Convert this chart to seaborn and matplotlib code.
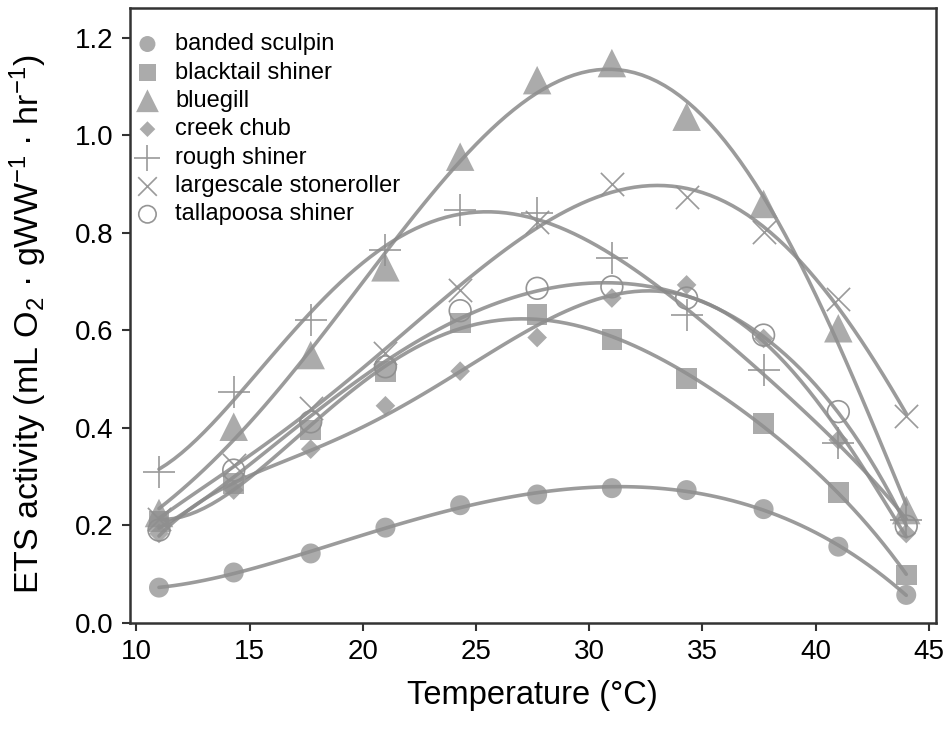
import numpy as np
import pandas as pd
import matplotlib
matplotlib.use("Agg")
import matplotlib.pyplot as plt
import seaborn as sns

temperature = [11, 14.3, 17.7, 21, 24.3, 27.7, 31, 34.3, 37.7, 41, 44]

species = ["banded sculpin", "blacktail shiner", "bluegill", "creek chub",
           "rough shiner", "largescale stoneroller", "tallapoosa shiner"]

banded_sculpin = [0.072, 0.103, 0.142, 0.195, 0.241, 0.263, 0.276, 0.272, 0.233, 0.156, 0.057]
blacktail_shiner = [0.208, 0.286, 0.395, 0.515, 0.615, 0.632, 0.581, 0.501, 0.409, 0.267, 0.098]
bluegill = [0.225, 0.402, 0.549, 0.729, 0.956, 1.113, 1.148, 1.038, 0.859, 0.604, 0.231]
creek_chub = [0.183, 0.272, 0.356, 0.445, 0.516, 0.585, 0.666, 0.693, 0.583, 0.375, 0.183]
rough_shiner = [0.310, 0.474, 0.621, 0.765, 0.847, 0.841, 0.748, 0.631, 0.518, 0.368, 0.211]
largescale_stoneroller = [0.212, 0.324, 0.440, 0.553, 0.683, 0.822, 0.899, 0.874, 0.801, 0.664, 0.423]
tallapoosa_shiner = [0.190, 0.313, 0.412, 0.525, 0.640, 0.686, 0.689, 0.666, 0.590, 0.433, 0.198]

values = [banded_sculpin, blacktail_shiner, bluegill, creek_chub,
          rough_shiner, largescale_stoneroller, tallapoosa_shiner]

markers = ["o", "s", "^", "D", "+", "x", "o"]
filled = [True, True, True, True, False, False, False]
msizes = [207, 222, 420, 100, 530, 280, 245]

x_ticks = [10, 15, 20, 25, 30, 35, 40, 45]
y_ticks = [0.0, 0.2, 0.4, 0.6, 0.8, 1.0, 1.2]

sns.set_theme(style="ticks")
plt.rcParams['font.family'] = ['Liberation Sans', 'DejaVu Sans']
plt.rcParams['mathtext.fontset'] = 'custom'
plt.rcParams['mathtext.rm'] = 'Liberation Sans'
plt.rcParams['mathtext.it'] = 'Liberation Sans'
plt.rcParams['text.color'] = 'black'
plt.rcParams['axes.labelcolor'] = 'black'
plt.rcParams['xtick.labelcolor'] = 'black'
plt.rcParams['ytick.labelcolor'] = 'black'

fig = plt.figure(figsize=(9.51, 7.42), dpi=100)
ax = fig.add_axes([0.1367, 0.1608, 0.8472, 0.8284])

gray = "#8f8f8f"
line_gray = "#8a8a8a"

for name, vals, m, f, s in zip(species, values, markers, filled, msizes):
    df = pd.DataFrame({"Temperature": temperature, "ETS": vals})
    sns.regplot(data=df, x="Temperature", y="ETS", order=5, ci=None,
                scatter=False, truncate=True, ax=ax,
                line_kws=dict(color=line_gray, lw=2.6, alpha=0.85))
    if m in ("+", "x"):
        sns.scatterplot(data=df, x="Temperature", y="ETS", marker=m, s=s,
                        color=gray, linewidth=1.2, alpha=0.9, ax=ax,
                        label=name, zorder=3)
    elif not f:
        sns.scatterplot(data=df, x="Temperature", y="ETS", marker=m, s=s,
                        facecolor="none", edgecolor=gray, linewidth=1.2,
                        alpha=0.95, ax=ax, label=name, zorder=3)
    else:
        sns.scatterplot(data=df, x="Temperature", y="ETS", marker=m, s=s,
                        color=gray, edgecolor="none", alpha=0.75, ax=ax,
                        label=name, zorder=3)

ax.set_xlim(9.72, 45.3)
ax.set_ylim(0, 1.261)
ax.set_xticks(x_ticks)
ax.set_yticks(y_ticks)
ax.set_yticklabels([f"{v:.1f}" for v in y_ticks])
ax.tick_params(axis="both", labelsize=20, length=6, width=1.5, color="#333333",
               labelcolor="black", direction="out", pad=6)
for sp in ax.spines.values():
    sp.set_visible(True)
    sp.set_linewidth(1.8)
    sp.set_color("#333333")

ax.set_xlabel("Temperature (°C)", fontsize=23.5, labelpad=10.5, color="black")
ax.set_ylabel(r"ETS activity (mL O$_2$ · gWW$^{-1}$ · hr$^{-1}$)", fontsize=24.5,
              color="black")
ax.yaxis.set_label_coords(-0.100, 0.485)

leg = ax.legend(loc="upper left", bbox_to_anchor=(0.007, 0.959), frameon=False,
                fontsize=17, labelspacing=0.27, handletextpad=0.68,
                borderaxespad=0, borderpad=0, handlelength=1.0,
                markerscale=0.8, labelcolor="black")

fig.savefig("out.png", dpi=100)
